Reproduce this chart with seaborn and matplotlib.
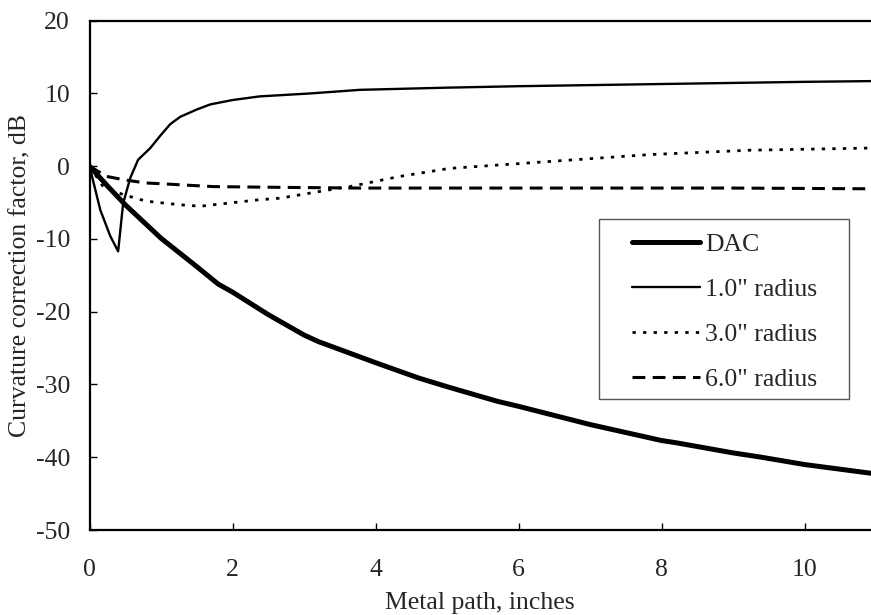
import seaborn as sns
import matplotlib.pyplot as plt
from matplotlib.patches import Rectangle

# values
dac_x = [0, 0.25, 0.5, 1.0, 1.5, 1.8, 2.0, 2.5, 3.0, 3.2, 4.0, 4.6, 5.0, 5.7, 6.0, 7.0, 8.0, 8.2, 9.0, 9.4, 10.0, 10.93]
dac_y = [0, -2.7, -5.3, -9.9, -13.8, -16.2, -17.3, -20.4, -23.2, -24.1, -27.0, -29.1, -30.3, -32.3, -33.0, -35.5, -37.7, -38.0, -39.4, -40.0, -41.0, -42.2]

r1_x = [0, 0.15, 0.29, 0.40, 0.47, 0.57, 0.68, 0.85, 0.99, 1.13, 1.27, 1.5, 1.69, 2.0, 2.38, 3.08, 3.78, 5.0, 6.0, 8.0, 10.0, 10.93]
r1_y = [0, -6.0, -9.6, -11.7, -5.1, -1.6, 0.9, 2.5, 4.2, 5.8, 6.8, 7.8, 8.5, 9.1, 9.6, 10.0, 10.5, 10.8, 11.0, 11.3, 11.6, 11.7]

r3_x = [0, 0.19, 0.47, 0.79, 1.27, 1.55, 1.73, 2.38, 2.66, 3.08, 3.5, 3.64, 4.34, 5.03, 6.43, 7.83, 9.23, 10.93]
r3_y = [0, -2.8, -3.9, -4.8, -5.3, -5.5, -5.3, -4.6, -4.4, -3.7, -3.0, -2.8, -1.4, -0.3, 0.65, 1.6, 2.2, 2.5]

r6_x = [0, 0.24, 0.5, 0.79, 0.99, 1.73, 2.66, 3.78, 5.0, 7.0, 9.0, 10.93]
r6_y = [0, -1.4, -1.9, -2.3, -2.4, -2.8, -2.9, -3.0, -3.0, -3.0, -3.0, -3.1]

x_ticks = [0, 2, 4, 6, 8, 10]
y_ticks = [-50, -40, -30, -20, -10, 0, 10, 20]

sns.set_style("ticks")
plt.rcParams['font.family'] = ['Liberation Serif', 'DejaVu Serif']
plt.rcParams['axes.unicode_minus'] = False
fs = 18.5

fig = plt.figure(figsize=(8.71, 6.15), dpi=100)
ax = fig.add_axes([0.1028, 0.1382, 0.8972, 0.8281])

sns.lineplot(x=dac_x, y=dac_y, ax=ax, color='black', lw=3.6, label='DAC', sort=False)
sns.lineplot(x=r1_x, y=r1_y, ax=ax, color='black', lw=1.7, label='1.0" radius', sort=False)
sns.lineplot(x=r3_x, y=r3_y, ax=ax, color='black', lw=2.0, label='3.0" radius', sort=False,
             linestyle=(0, (1.2, 2.6)))
sns.lineplot(x=r6_x, y=r6_y, ax=ax, color='black', lw=2.2, label='6.0" radius', sort=False,
             linestyle=(0, (4.2, 2.4)))

ax.set_xlim(0, 10.93)
ax.set_ylim(-50, 20)
ax.set_xticks(x_ticks)
ax.set_yticks(y_ticks)
ax.tick_params(direction='in', length=5, width=1, labelsize=fs, color='black')
ax.tick_params(axis='x', pad=21)
ax.tick_params(axis='y', pad=14)
for side in ['left', 'bottom', 'top']:
    ax.spines[side].set_linewidth(1.6)
    ax.spines[side].set_color('black')
ax.spines['right'].set_visible(False)

ax.set_xlabel('Metal path, inches', fontsize=fs, labelpad=8)
ax.set_ylabel('Curvature correction factor, dB', fontsize=fs, labelpad=3)

# legend box drawn separately so the handles can sit well inside it
ax.add_patch(Rectangle((0.652, 0.2566), 0.320, 0.354, transform=ax.transAxes,
                       facecolor='white', edgecolor='#555555', lw=1.0, zorder=4))
leg = ax.legend(loc='upper left', bbox_to_anchor=(0.694, 0.584), borderaxespad=0,
                fontsize=fs, handlelength=2.65, handletextpad=0.2, labelspacing=0.86,
                borderpad=0, frameon=False)
leg.set_zorder(5)

fig.savefig('out.png', dpi=100)
